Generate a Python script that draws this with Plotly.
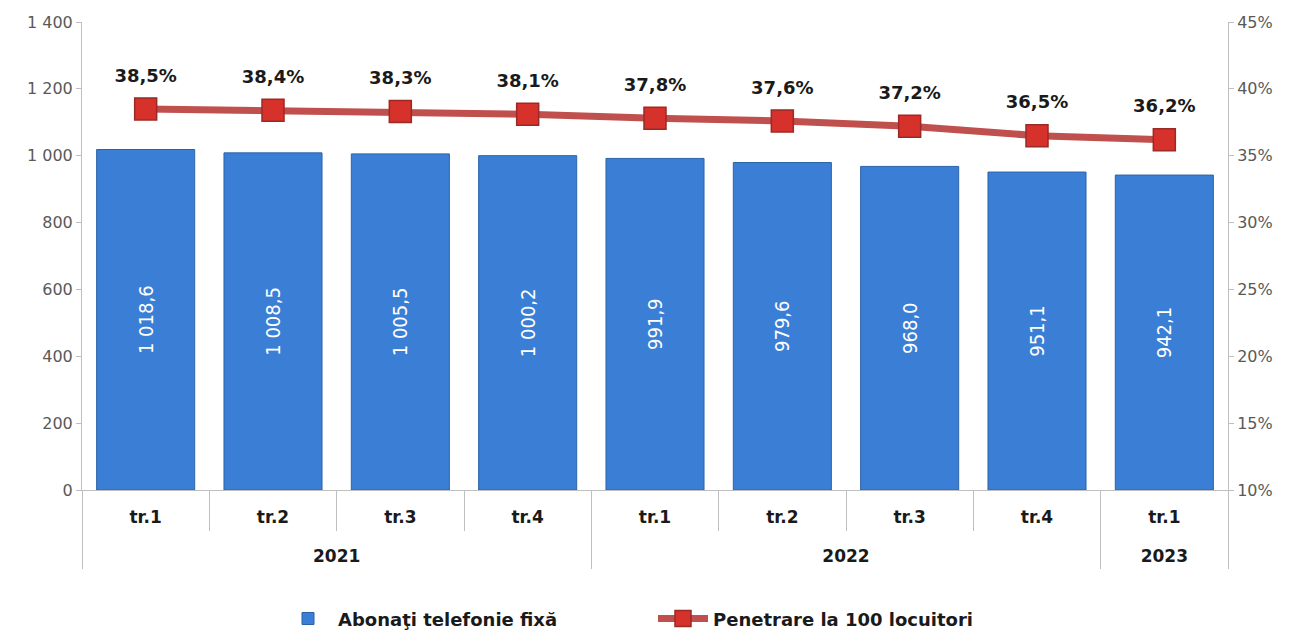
import plotly.graph_objects as go

years = ["2021", "2021", "2021", "2021", "2022", "2022", "2022", "2022", "2023"]
quarters = ["tr.1", "tr.2", "tr.3", "tr.4", "tr.1", "tr.2", "tr.3", "tr.4", "tr.1"]
subscribers = [1018.6, 1008.5, 1005.5, 1000.2, 991.9, 979.6, 968.0, 951.1, 942.1]
penetration = [38.5, 38.4, 38.3, 38.1, 37.8, 37.6, 37.2, 36.5, 36.2]

left_ticks = [0, 200, 400, 600, 800, 1000, 1200, 1400]
right_ticks = [10, 15, 20, 25, 30, 35, 40, 45]

font_fam = "'DejaVu Sans', sans-serif"
cond_fam = "'DejaVu Sans Condensed', 'DejaVu Sans', sans-serif"

ids = [f"{y} {q}" for y, q in zip(years, quarters)]
n = len(ids)
idx = list(range(n))
year_names = list(dict.fromkeys(years))
year_centers = [sum(i for i in idx if years[i] == yn) / years.count(yn) for yn in year_names]
year_bounds = [-0.5] + [i - 0.5 for i in idx[1:] if years[i] != years[i - 1]] + [n - 0.5]

fig = go.Figure()
fig.add_trace(go.Bar(
    x=ids, y=subscribers,
    name="Abonaţi telefonie fixă",
    marker=dict(color="#3a7fd5", line=dict(color="#2c63a8", width=1)),
    width=0.77,
    texttemplate="%{y:,.1f}", textposition="inside", textangle=-90,
    insidetextanchor="middle",
    textfont=dict(color="white", size=20, family=cond_fam),
))
fig.add_trace(go.Scatter(
    x=ids, y=penetration, yaxis="y2",
    name="Penetrare la 100 locuitori",
    mode="lines+markers",
    line=dict(color="#c0504d", width=7),
    marker=dict(symbol="square", size=22, color="#d6312b", line=dict(color="#9b2a26", width=1.5)),
))
# value labels for the line (transparent, larger marker for label offset)
fig.add_trace(go.Scatter(
    x=ids, y=penetration, yaxis="y2",
    mode="markers+text", showlegend=False, hoverinfo="skip",
    marker=dict(size=35, opacity=0),
    texttemplate="%{y:.1f}%", textposition="top center",
    textfont=dict(color="#1a1a1a", size=18, family=font_fam, weight="bold"),
))
# helper traces so the label/divider axes are drawn
for ax in ["x2", "x3", "x4"]:
    fig.add_trace(go.Scatter(x=[None], y=[None], xaxis=ax, yaxis="y",
                             showlegend=False, hoverinfo="skip", mode="markers"))

rng = [-0.5, n - 0.5]
label_font = dict(size=17, color="#1a1a1a", family=font_fam, weight="bold")
fig.update_layout(
    width=1290, height=622,
    paper_bgcolor="white", plot_bgcolor="white",
    separators=", ",
    margin=dict(l=74, r=70, t=14, b=140),
    bargap=0.23,
    font=dict(family=font_fam, color="#595959"),
    xaxis=dict(
        type="category", automargin=False, range=rng,
        showline=True, linecolor="#bfbfbf", linewidth=1,
        ticks="outside", tickson="boundaries", ticklen=40, tickcolor="#bfbfbf",
        showticklabels=False, showgrid=False,
    ),
    xaxis2=dict(
        overlaying="x", anchor="y", side="bottom", range=rng, automargin=False,
        tickvals=idx, ticktext=quarters, ticks="", showline=False, showgrid=False,
        zeroline=False, ticklabelstandoff=15, tickfont=label_font,
    ),
    xaxis3=dict(
        overlaying="x", anchor="y", side="bottom", range=rng, automargin=False,
        tickvals=year_centers, ticktext=year_names, ticks="", showline=False,
        showgrid=False, zeroline=False, ticklabelstandoff=54, tickfont=label_font,
    ),
    xaxis4=dict(
        overlaying="x", anchor="y", side="bottom", range=rng, automargin=False,
        tickvals=year_bounds, ticks="outside", ticklen=78, tickcolor="#bfbfbf",
        showticklabels=False, showline=False, showgrid=False, zeroline=False,
    ),
    yaxis=dict(
        range=[0, 1400], tickvals=left_ticks, automargin=False,
        ticktext=[f"{v:,}".replace(",", " ") for v in left_ticks],
        showgrid=False, showline=True, linecolor="#bfbfbf",
        ticks="outside", ticklen=5, tickcolor="#bfbfbf",
        tickfont=dict(size=16, color="#595959"),
        zeroline=False,
    ),
    yaxis2=dict(
        overlaying="y", side="right", automargin=False,
        range=[10, 45], tickvals=right_ticks,
        ticktext=[f"{v}%" for v in right_ticks],
        showgrid=False, showline=True, linecolor="#bfbfbf",
        ticks="outside", ticklen=5, tickcolor="#bfbfbf",
        tickfont=dict(size=16, color="#595959"),
        zeroline=False,
    ),
    legend=dict(
        orientation="h", x=0.5, xanchor="center", xref="container",
        y=0.018, yanchor="middle", yref="container",
        font=dict(size=18, color="#1a1a1a", family=font_fam, weight="bold"),
        traceorder="normal", itemwidth=50,
        entrywidth=310, entrywidthmode="pixels",
    ),
)

fig.write_html("out.html")
